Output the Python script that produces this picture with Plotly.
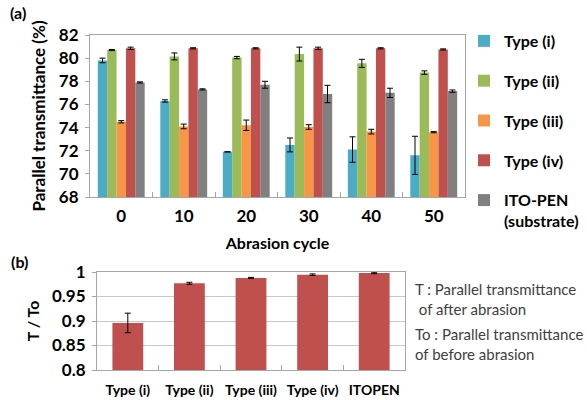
import plotly.graph_objects as go

# (a) parallel transmittance vs abrasion cycle
cycles = ["0", "10", "20", "30", "40", "50"]
series_names = ["Type (i)", "Type (ii)", "Type (iii)", "Type (iv)", "ITO-PEN<br>(substrate)"]
colors = ["#4bacc6", "#9bbb59", "#f79646", "#c0504d", "#808080"]

type_i = [79.8, 76.3, 71.9, 72.5, 72.1, 71.6]
type_i_err = [0.2, 0.1, 0.0, 0.6, 1.1, 1.65]
type_ii = [80.7, 80.15, 80.05, 80.35, 79.55, 78.75]
type_ii_err = [0.05, 0.3, 0.1, 0.6, 0.35, 0.15]
type_iii = [74.5, 74.1, 74.2, 74.05, 73.65, 73.6]
type_iii_err = [0.1, 0.2, 0.45, 0.2, 0.2, 0.05]
type_iv = [80.85, 80.85, 80.85, 80.85, 80.85, 80.75]
type_iv_err = [0.1, 0.05, 0.05, 0.1, 0.05, 0.05]
ito_pen = [77.9, 77.3, 77.7, 76.9, 77.0, 77.15]
ito_pen_err = [0.05, 0.05, 0.3, 0.75, 0.4, 0.1]

values = [type_i, type_ii, type_iii, type_iv, ito_pen]
errors = [type_i_err, type_ii_err, type_iii_err, type_iv_err, ito_pen_err]

# (b) ratio of transmittance after/before abrasion
ratio_labels = ["Type (i)", "Type (ii)", "Type (iii)", "Type (iv)", "ITOPEN"]
ratio_values = [0.896, 0.977, 0.988, 0.9945, 0.998]
ratio_err = [0.02, 0.002, 0.001, 0.0015, 0.0015]

FONT = "Lato"
fig = go.Figure()

for i, (name, vals, errs, col) in enumerate(zip(series_names, values, errors, colors)):
    fig.add_trace(go.Bar(
        x=cycles, y=vals, name=name, marker_color=col, marker_line_width=0,
        error_y=dict(type="data", array=errs, color="#000000", thickness=1, width=3),
        xaxis="x", yaxis="y", legendgroup=f"g{i}",
    ))

fig.add_trace(go.Bar(
    x=ratio_labels, y=ratio_values, marker_color="#c0504d", marker_line_width=0,
    error_y=dict(type="data", array=ratio_err, color="#000000", thickness=1, width=3),
    xaxis="x2", yaxis="y2", showlegend=False, width=0.5,
))

axis_line = "#a6a6a6"
tick_font = dict(family=FONT, size=17, color="#000000", weight="bold")

fig.update_layout(
    width=587, height=400,
    margin=dict(l=0, r=0, t=0, b=0),
    paper_bgcolor="white", plot_bgcolor="white",
    barmode="group", bargap=0.25, bargroupgap=0,
    font=dict(family=FONT, color="#000000"),
    xaxis=dict(
        domain=[90 / 587, 465 / 587], anchor="y", type="category", automargin=False,
        showline=True, mirror=True, linecolor=axis_line, linewidth=1,
        ticks="inside", tickson="boundaries", ticklen=5, tickcolor=axis_line,
        tickfont=tick_font, showgrid=False, ticklabelstandoff=4,
        title=dict(text="Abrasion cycle", font=dict(family=FONT, size=16, weight="bold"), standoff=12),
    ),
    yaxis=dict(
        domain=[1 - 197 / 400, 1 - 35 / 400], anchor="x", automargin=False,
        range=[68, 82], dtick=2,
        showline=True, mirror=True, linecolor=axis_line, linewidth=1,
        showgrid=False, ticks="outside", ticklen=4, tickcolor=axis_line,
        tickfont=tick_font, ticklabelstandoff=3,
        title=dict(text="Parallel transmittance (%)", font=dict(family=FONT, size=17, weight="bold"), standoff=8),
    ),
    xaxis2=dict(
        domain=[97 / 587, 405 / 587], anchor="y2", type="category", automargin=False,
        showline=True, mirror=True, linecolor=axis_line, linewidth=1,
        ticks="inside", tickson="boundaries", ticklen=5, tickcolor=axis_line,
        tickfont=dict(family=FONT, size=14, color="#000000", weight="bold"),
        showgrid=False, ticklabelstandoff=7,
    ),
    yaxis2=dict(
        domain=[1 - 370 / 400, 1 - 272 / 400], anchor="x2", automargin=False,
        range=[0.8, 1.0], dtick=0.05, tickformat="~g",
        showline=True, mirror=True, linecolor=axis_line, linewidth=1,
        showgrid=True, gridcolor="#c8c8c8", ticks="outside", ticklen=4, tickcolor=axis_line,
        tickfont=tick_font, ticklabelstandoff=3,
        title=dict(text="T / To", font=dict(family=FONT, size=16, weight="bold"), standoff=8),
    ),
    legend=dict(
        x=464 / 587, y=1 - 24 / 400, xanchor="left", yanchor="top",
        font=dict(family=FONT, size=16, weight="bold"),
        tracegroupgap=16, valign="top", itemwidth=30,
        bgcolor="rgba(0,0,0,0)",
    ),
    annotations=[
        dict(text="(a)", x=8 / 587, y=1 - 13 / 400, xref="paper", yref="paper",
             xanchor="left", yanchor="middle", showarrow=False,
             font=dict(family=FONT, size=16, weight="bold")),
        dict(text="(b)", x=9 / 587, y=1 - 261 / 400, xref="paper", yref="paper",
             xanchor="left", yanchor="middle", showarrow=False,
             font=dict(family=FONT, size=16, weight="bold")),
        dict(text="T : Parallel transmittance<br> of after abrasion", x=413 / 587, y=1 - 299 / 400,
             xref="paper", yref="paper", xanchor="left", yanchor="middle", align="left",
             showarrow=False, font=dict(family=FONT, size=15, color="#404040")),
        dict(text="To : Parallel transmittance<br>of before abrasion", x=413 / 587, y=1 - 344 / 400,
             xref="paper", yref="paper", xanchor="left", yanchor="middle", align="left",
             showarrow=False, font=dict(family=FONT, size=15, color="#404040")),
    ],
)

fig.write_html("out.html")
